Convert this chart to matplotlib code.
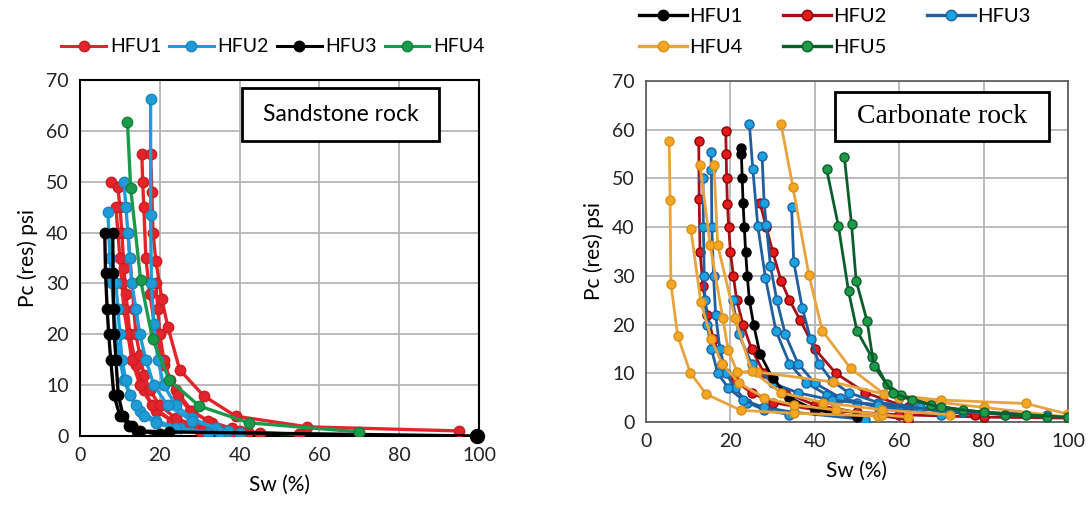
import numpy as np
import matplotlib.pyplot as plt
from matplotlib.lines import Line2D
from matplotlib.patches import Rectangle

plt.rcParams['font.family'] = ['Lato', 'DejaVu Sans']

# ---- Sandstone rock (Sw %, Pc psi) ----
sand_hfu1 = [
    ([15.5, 15.7, 16.0, 16.5, 17.5, 19.0, 21.0, 24.0, 28.0, 33.0, 40.0],
     [55.5, 50.0, 45.0, 35.0, 28.0, 20.0, 14.0, 9.0, 5.0, 2.5, 1.0]),
    ([17.7, 18.0, 18.3, 19.0, 20.5, 22.0, 25.0, 31.0, 39.0, 57.0, 95.0],
     [55.5, 48.0, 40.0, 34.5, 27.0, 21.5, 13.0, 7.9, 3.9, 1.8, 1.0]),
    ([7.7, 9.5, 10.0, 10.5, 11.0, 11.5, 12.5, 14.0, 16.0, 19.0, 24.0, 30.0],
     [50.0, 49.0, 45.0, 40.0, 33.0, 28.0, 20.0, 14.0, 9.0, 5.0, 2.5, 1.0]),
    ([9.0, 9.5, 10.0, 10.5, 11.0, 12.0, 13.0, 15.0, 18.0, 23.0, 30.0, 38.0],
     [45.0, 40.0, 35.0, 30.0, 25.0, 20.0, 15.0, 10.0, 6.0, 3.0, 1.5, 0.5]),
    ([12.0, 12.5, 13.0, 13.5, 14.0, 15.0, 16.0, 17.5, 20.0, 24.0, 31.0, 42.0, 55.0],
     [40.0, 35.0, 30.0, 25.0, 20.0, 16.0, 12.0, 9.0, 6.0, 3.5, 1.5, 0.8, 0.3]),
    ([19.0, 19.5, 20.0, 21.0, 22.5, 24.5, 27.5, 32.0, 38.0, 45.0],
     [30.0, 25.0, 20.0, 15.0, 11.0, 8.0, 5.0, 3.0, 1.5, 0.5]),
]
sand_hfu2 = [
    ([17.7, 17.7, 17.9, 18.5, 19.5, 21.0, 24.0, 28.0, 34.0, 40.0],
     [66.3, 43.4, 30.0, 22.0, 15.0, 10.0, 6.0, 3.5, 1.5, 0.5]),
    ([7.0, 7.5, 8.0, 8.5, 9.0, 10.0, 11.0, 12.5, 15.0, 19.0, 25.0, 35.0],
     [44.0, 35.0, 30.0, 25.0, 20.0, 15.0, 11.0, 8.0, 5.0, 3.0, 1.5, 0.5]),
    ([11.0, 11.5, 12.0, 12.5, 13.0, 14.0, 15.0, 16.5, 18.5, 22.0, 28.0, 37.0],
     [50.0, 45.0, 40.0, 35.0, 30.0, 25.0, 20.0, 15.0, 10.0, 6.0, 3.0, 1.0]),
    ([9.0, 9.5, 10.0, 10.5, 11.5, 12.5, 14.0, 16.0, 19.0, 24.0, 32.0],
     [30.0, 25.0, 20.0, 15.0, 11.0, 8.0, 6.0, 4.0, 2.5, 1.5, 0.5]),
]
sand_hfu3 = [
    ([6.2, 6.4, 6.8, 7.2, 7.7, 8.5, 10.0, 12.4, 14.4, 22.4, 99.5],
     [40.0, 32.0, 25.0, 20.0, 15.0, 8.0, 4.0, 2.0, 1.0, 0.8, 0.0]),
    ([8.2, 8.3, 8.4, 8.6, 9.0, 9.6, 10.8, 13.0, 15.0, 20.0],
     [40.0, 32.0, 25.0, 20.0, 15.0, 8.0, 4.0, 2.0, 1.0, 0.3]),
]
sand_hfu4 = [
    ([11.9, 12.7, 15.2, 18.2, 22.4, 29.9, 42.3, 70.0],
     [61.7, 48.7, 30.6, 19.0, 11.0, 5.9, 2.6, 0.8]),
]

# ---- Carbonate rock (Sw %, Pc psi) ----
carb_hfu1 = [
    ([22.5, 22.6, 22.8, 23.0, 23.3, 23.6, 24.0, 24.5, 25.5, 27.0, 30.0, 34.0, 40.0, 50.0],
     [56.3, 55.0, 50.0, 45.0, 40.0, 35.0, 30.0, 25.0, 20.0, 14.0, 9.0, 5.0, 2.5, 1.0]),
]
carb_hfu2 = [
    ([12.5, 12.6, 12.8, 13.5, 14.5, 16.0, 18.0, 21.0, 25.0, 30.0, 40.0, 60.0, 80.0, 100.0],
     [57.6, 45.7, 35.0, 28.0, 22.0, 17.0, 12.0, 8.5, 6.0, 4.0, 2.5, 1.5, 1.0, 0.8]),
    ([18.9, 19.0, 19.1, 19.3, 19.6, 20.0, 20.7, 21.5, 23.0, 25.0, 28.0, 33.0, 40.0, 50.0, 62.0],
     [59.8, 55.0, 50.0, 44.7, 40.0, 35.0, 30.0, 25.0, 20.0, 15.0, 10.0, 6.0, 3.5, 2.0, 0.5]),
    ([27.0, 28.5, 30.0, 32.0, 34.0, 36.5, 40.0, 45.0, 52.0, 62.0, 78.0],
     [45.0, 40.0, 35.0, 29.0, 25.0, 21.0, 15.0, 10.0, 6.0, 3.0, 1.5]),
]
carb_hfu3 = [
    ([24.5, 25.3, 26.5, 28.3, 30.8, 34.0, 38.0, 43.0, 50.0, 60.0, 75.0, 95.0],
     [61.1, 52.0, 40.2, 29.6, 18.7, 12.0, 8.0, 5.5, 4.0, 3.0, 2.0, 1.5]),
    ([27.5, 28.0, 28.5, 29.5, 31.0, 33.0, 36.0, 40.0, 46.0, 55.0, 70.0],
     [54.6, 45.0, 40.5, 32.0, 25.0, 18.0, 12.0, 8.0, 5.0, 3.0, 1.5]),
    ([34.5, 35.0, 37.0, 39.0, 41.0, 44.0, 48.0, 55.0, 65.0, 80.0, 100.0],
     [44.1, 32.9, 23.5, 17.0, 12.0, 8.5, 6.0, 4.0, 3.0, 2.0, 1.0]),
    ([15.4, 15.5, 15.6, 16.0, 16.5, 17.5, 19.0, 21.0, 24.0, 28.0, 34.0],
     [55.4, 51.7, 40.0, 30.0, 22.0, 15.0, 10.0, 7.0, 4.0, 2.5, 1.5]),
    ([13.5, 13.6, 13.8, 14.0, 14.5, 15.5, 17.0, 19.5, 23.0, 28.0, 35.0, 52.0],
     [50.0, 40.0, 30.0, 25.0, 20.0, 15.0, 10.0, 7.0, 4.5, 3.0, 2.0, 0.5]),
    ([20.5, 22.0, 25.0, 30.0, 36.0, 44.0, 55.0, 70.0, 85.0, 100.0],
     [25.0, 18.0, 12.0, 8.0, 6.0, 4.5, 3.5, 2.5, 1.5, 1.0]),
]
carb_hfu4 = [
    ([5.5, 5.7, 5.9, 7.5, 10.5, 14.3, 22.5, 35.0, 55.0],
     [57.7, 45.6, 28.4, 17.7, 10.1, 5.7, 2.4, 1.8, 1.2]),
    ([32.0, 34.8, 38.6, 41.8, 48.5, 56.5, 70.0, 90.0, 100.0],
     [61.1, 48.3, 30.2, 18.7, 11.0, 5.7, 4.5, 3.8, 1.6]),
    ([10.6, 13.0, 15.5, 18.0, 22.0, 28.0, 35.0, 45.0, 56.0, 62.0],
     [39.7, 24.6, 17.0, 12.0, 8.0, 5.0, 3.5, 2.5, 1.5, 1.0]),
    ([12.8, 15.2, 18.2, 19.5, 21.6, 26.2, 44.3, 60.0, 80.0, 100.0],
     [52.7, 36.3, 21.3, 14.7, 10.3, 10.3, 8.2, 5.0, 3.0, 1.0]),
    ([16.1, 17.0, 21.1, 25.0, 32.0, 42.0, 56.0, 72.0],
     [52.7, 36.3, 21.3, 10.5, 6.0, 4.0, 2.5, 1.5]),
]
carb_hfu5 = [
    ([42.8, 45.6, 48.0, 50.0, 53.5, 57.0, 60.5, 67.5, 75.0, 85.0, 95.0],
     [51.9, 40.2, 26.8, 18.7, 13.3, 7.9, 5.5, 3.5, 2.5, 1.5, 1.0]),
    ([47.0, 48.7, 49.8, 52.4, 54.0, 58.5, 63.0, 70.0, 80.0, 90.0, 100.0],
     [54.4, 40.6, 29.0, 20.7, 11.5, 6.0, 4.5, 3.0, 2.0, 1.5, 1.0]),
]

fig = plt.figure(figsize=(10.88, 5.16), dpi=100)
ax1 = fig.add_axes([80/1088, 1-436/516, 399/1088, 356/516])
ax2 = fig.add_axes([646/1088, 1-422/516, 422/1088, 341/516])


def style(ax):
    ax.set_xlim(0, 100)
    ax.set_ylim(0, 70)
    ax.set_xticks(np.arange(0, 101, 20))
    ax.set_yticks(np.arange(0, 71, 10))
    ax.grid(True, color='#b4b4b4', lw=1.3)
    ax.set_axisbelow(True)
    ax.tick_params(length=0, labelsize=14, pad=8, colors='#222222')
    ax.set_xlabel('Sw (%)', fontsize=15, labelpad=8)
    ax.set_ylabel('Pc (res) psi', fontsize=15, labelpad=6)


def box(ax, x0, y0, x1, y1, text, **kw):
    ax.add_patch(Rectangle((x0, y0), x1 - x0, y1 - y0, transform=ax.transAxes,
                           fc='white', ec='black', lw=2, zorder=5))
    ax.text((x0 + x1) / 2, (y0 + y1) / 2, text, transform=ax.transAxes,
            ha='center', va='center', zorder=6, **kw)


# left chart
sand = [(sand_hfu1, '#e3242b', '#c81e24', 'HFU1'),
        (sand_hfu2, '#1e9cd8', '#1b86bd', 'HFU2'),
        (sand_hfu3, '#000000', '#000000', 'HFU3'),
        (sand_hfu4, '#1a9a4b', '#12803c', 'HFU4')]
handles = []
for curves, c, ec, lab in sand:
    for x, y in curves:
        ax1.plot(x, y, '-o', color=c, lw=2.4, ms=7.5, mec=ec, zorder=3)
    handles.append(Line2D([], [], color=c, marker='o', lw=2.2, ms=7.5, mec=ec, label=lab))
ax1.plot([99.5], [0], 'o', color='black', ms=10, zorder=4, clip_on=False)
style(ax1)
for s in ax1.spines.values():
    s.set_color('black')
    s.set_linewidth(1.5)
box(ax1, 0.406, 0.829, 0.9, 0.978, 'Sandstone rock', fontsize=16.5)
fig.legend(handles=handles, loc='center', bbox_to_anchor=(273/1088, 1-47/516), ncol=4,
           frameon=False, fontsize=14, handlelength=2.3, handletextpad=0.2, columnspacing=0.4)

# right chart
carb = [(carb_hfu1, '#000000', '#000000', '#000000', 'HFU1'),
        (carb_hfu2, '#a50f15', '#e31a1c', '#8b0000', 'HFU2'),
        (carb_hfu3, '#1f5f9f', '#1aa3e0', '#1f5f9f', 'HFU3'),
        (carb_hfu4, '#e8a33d', '#f5a623', '#d9901a', 'HFU4'),
        (carb_hfu5, '#0b5d2a', '#1e9b4a', '#0b5d2a', 'HFU5')]
order = [carb[1], carb[2], carb[0], carb[3], carb[4]]
for curves, lc, mc, ec, lab in order:
    for x, y in curves:
        ax2.plot(x, y, '-o', color=lc, mfc=mc, mec=ec, lw=2.0, ms=6.5, zorder=3)
h2 = {lab: Line2D([], [], color=lc, marker='o', mfc=mc, mec=ec, lw=2.4, ms=7.5, label=lab)
      for curves, lc, mc, ec, lab in carb}
handles2 = [h2['HFU1'], h2['HFU4'], h2['HFU2'], h2['HFU5'], h2['HFU3']]
style(ax2)
for s in ax2.spines.values():
    s.set_color('#555555')
    s.set_linewidth(1.2)
box(ax2, 0.448, 0.824, 0.955, 0.968, 'Carbonate rock', fontsize=20, family='Liberation Serif')
fig.legend(handles=handles2, loc='center', bbox_to_anchor=(835/1088, 1-32/516), ncol=3,
           frameon=False, fontsize=14.5, handlelength=2.4, handletextpad=0.1, columnspacing=2.0,
           labelspacing=0.7)

fig.savefig('out.png', dpi=100)
